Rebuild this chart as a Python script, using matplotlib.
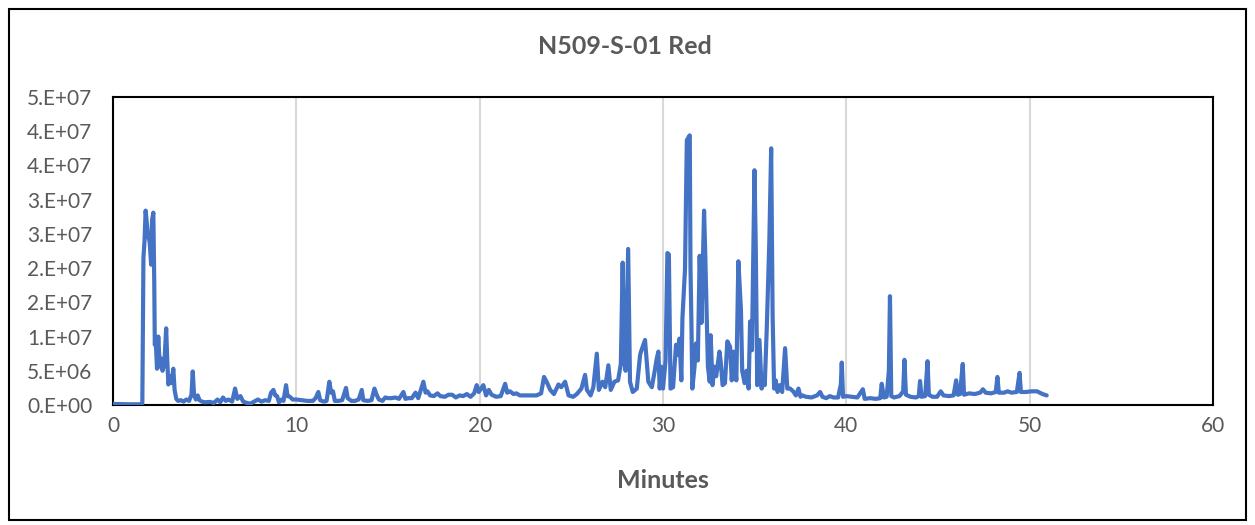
import math

import numpy as np
import matplotlib
matplotlib.use("Agg")
import matplotlib.pyplot as plt
from matplotlib.patches import Rectangle
from matplotlib.ticker import FuncFormatter

TITLE = "N509-S-01 Red"
X_LABEL = "Minutes"

# retention time (min) and intensity (millions of counts)
minutes = [
    0.0, 0.5, 1.0, 1.55, 1.6, 1.63, 1.66, 1.72, 1.78, 1.9, 2.0, 2.08, 2.13, 2.2,
    2.25, 2.28, 2.33, 2.4, 2.47, 2.55, 2.62, 2.7, 2.8, 2.9, 2.96, 3.02, 3.1, 3.18,
    3.29, 3.36, 3.45, 3.55, 3.7, 3.85, 4.0, 4.15, 4.28, 4.35, 4.42, 4.52, 4.62,
    4.72, 4.85, 5.0, 5.3, 5.5, 5.7, 5.85, 6.0, 6.15, 6.3, 6.5, 6.66, 6.78, 6.95,
    7.1, 7.3, 7.5, 7.7, 7.9, 8.1, 8.3, 8.5, 8.62, 8.75, 8.85, 8.95, 9.05, 9.2,
    9.3, 9.44, 9.52, 9.65, 9.8, 10.0, 10.3, 10.6, 10.9, 11.05, 11.2, 11.3, 11.5,
    11.65, 11.8, 11.9, 12.0, 12.1, 12.3, 12.5, 12.71, 12.8, 13.0, 13.2, 13.4,
    13.57, 13.65, 13.9, 14.1, 14.26, 14.38, 14.5, 14.7, 14.85, 15.0, 15.2, 15.4,
    15.6, 15.84, 15.95, 16.1, 16.3, 16.5, 16.65, 16.93, 17.05, 17.15, 17.3, 17.5,
    17.7, 17.85, 18.1, 18.3, 18.5, 18.7, 18.9, 19.1, 19.3, 19.5, 19.7, 19.84,
    19.95, 20.2, 20.35, 20.5, 20.65, 20.9, 21.15, 21.39, 21.5, 21.65, 21.85, 22.0,
    22.2, 22.5, 22.8, 23.1, 23.35, 23.51, 23.65, 23.85, 24.05, 24.3, 24.45, 24.66,
    24.85, 25.1, 25.3, 25.55, 25.75, 25.85, 26.05, 26.2, 26.39, 26.5, 26.7, 26.85,
    27.02, 27.15, 27.35, 27.55, 27.7, 27.8, 27.88, 27.96, 28.1, 28.2, 28.35,
    28.57, 28.75, 28.8, 29.02, 29.1, 29.2, 29.39, 29.55, 29.66, 29.75, 29.82,
    29.9, 30.0, 30.14, 30.24, 30.32, 30.41, 30.55, 30.71, 30.78, 30.9, 31.0,
    31.06, 31.2, 31.3, 31.46, 31.5, 31.55, 31.6, 31.72, 31.8, 31.9, 32.0, 32.1,
    32.24, 32.3, 32.45, 32.55, 32.6, 32.7, 32.8, 32.9, 33.08, 33.15, 33.25, 33.38,
    33.51, 33.66, 33.75, 33.85, 34.0, 34.11, 34.25, 34.32, 34.45, 34.55, 34.67,
    34.75, 34.85, 34.99, 35.06, 35.14, 35.26, 35.38, 35.45, 35.55, 35.66, 35.8,
    35.9, 35.98, 36.06, 36.15, 36.25, 36.38, 36.5, 36.66, 36.78, 36.93, 37.1,
    37.25, 37.39, 37.5, 37.6, 37.8, 38.1, 38.4, 38.57, 38.7, 38.9, 39.1, 39.3,
    39.55, 39.7, 39.75, 39.82, 40.0, 40.3, 40.6, 40.9, 41.0, 41.3, 41.6, 41.85,
    41.93, 42.05, 42.2, 42.32, 42.38, 42.45, 42.6, 42.9, 43.1, 43.17, 43.25,
    43.5, 43.8, 43.95, 44.02, 44.1, 44.3, 44.43, 44.5, 44.7, 44.95, 45.15, 45.3,
    45.6, 45.85, 45.99, 46.08, 46.2, 46.35, 46.42, 46.7, 47.0, 47.3, 47.45, 47.6,
    47.9, 48.15, 48.24, 48.32, 48.6, 48.8, 49.0, 49.3, 49.45, 49.52, 49.8, 50.1,
    50.4, 50.7, 50.93,
]
intensity_m = [
    0.15, 0.12, 0.1, 0.1, 0.3, 12.0, 21.5, 24.0, 28.4, 25.0, 23.8, 20.5, 27.0, 28.1,
    18.0, 8.8, 9.5, 5.3, 10.0, 5.6, 6.8, 5.0, 6.0, 11.2, 6.5, 3.0, 4.2, 3.2,
    5.3, 2.2, 0.9, 0.6, 0.7, 0.5, 0.8, 0.6, 1.5, 4.9, 1.5, 0.8, 1.4,
    0.7, 0.5, 0.4, 0.45, 0.3, 0.8, 0.4, 1.1, 0.6, 0.8, 0.5, 2.4, 0.9, 1.3,
    0.5, 0.3, 0.2, 0.5, 0.8, 0.5, 0.7, 0.6, 1.8, 2.2, 1.4, 1.3, 0.4, 0.8,
    0.6, 2.9, 1.3, 1.2, 0.8, 0.8, 0.7, 0.6, 0.6, 1.0, 1.9, 0.7, 0.5,
    0.6, 3.4, 1.8, 2.0, 0.6, 0.6, 0.7, 2.5, 1.0, 0.6, 0.6, 0.8,
    2.2, 0.7, 0.6, 0.7, 2.4, 1.5, 0.8, 0.6, 1.1, 1.0, 1.0, 1.1,
    0.9, 1.9, 0.9, 1.0, 1.0, 1.8, 1.0, 3.4, 1.8, 2.0, 1.4, 1.3,
    1.7, 1.3, 1.2, 1.5, 1.5, 1.1, 1.4, 1.3, 1.6, 1.2, 1.7, 2.9,
    1.9, 2.9, 1.4, 2.2, 1.5, 1.2, 1.3, 3.1, 1.8, 2.0, 1.6, 1.7,
    1.4, 1.4, 1.4, 1.4, 1.7, 4.1, 3.4, 2.2, 1.6, 3.0, 2.6, 3.4,
    1.4, 1.2, 1.6, 2.4, 4.4, 2.2, 1.4, 2.6, 7.5, 2.2, 3.4, 2.6,
    5.8, 2.2, 3.4, 3.6, 6.0, 20.8, 6.5, 5.0, 22.8, 3.4, 1.9,
    2.4, 7.3, 7.8, 9.5, 6.8, 3.4, 2.6, 5.0, 6.8, 7.8, 2.4,
    5.6, 2.4, 6.5, 22.2, 22.0, 2.4, 2.6, 8.8, 7.3, 9.7, 3.6,
    12.7, 19.8, 38.7, 39.4, 20.0, 12.0, 2.4, 5.6, 9.0, 6.5, 21.8, 12.0,
    28.4, 22.5, 5.6, 3.4, 10.2, 2.9, 5.6, 4.2, 7.8, 6.3, 2.9, 3.2,
    9.3, 8.5, 3.6, 7.8, 3.6, 21.0, 14.0, 5.0, 3.2, 5.0, 2.4,
    12.2, 8.0, 34.3, 23.0, 2.9, 9.5, 2.4, 4.2, 2.9, 11.2, 24.0,
    37.5, 13.0, 2.4, 3.6, 1.9, 2.9, 1.9, 8.3, 2.4, 2.4, 2.0,
    1.4, 2.4, 1.2, 1.4, 1.2, 1.1, 1.4, 1.9, 1.2, 1.0, 1.3, 1.1,
    1.1, 3.0, 6.2, 1.2, 1.3, 1.2, 1.1, 2.3, 0.9, 1.0, 0.9, 1.0,
    3.1, 1.1, 1.2, 5.0, 15.9, 1.3, 1.1, 1.3, 2.0, 6.6, 1.5,
    1.2, 1.1, 1.3, 3.5, 1.2, 1.3, 6.4, 1.5, 1.2, 1.2, 2.0, 1.4,
    1.3, 1.4, 3.6, 1.5, 1.6, 6.0, 1.5, 1.7, 1.6, 1.8, 2.3, 1.8,
    1.7, 1.9, 4.1, 1.8, 1.8, 2.0, 1.8, 1.9, 4.7, 1.9, 1.9, 2.0,
    2.0, 1.6, 1.4,
]

X_TICKS = [0, 10, 20, 30, 40, 50, 60]
Y_TICKS = [0, 5e6, 1e7, 1.5e7, 2e7, 2.5e7, 3e7, 3.5e7, 4e7, 4.5e7]

LINE_COLOR = "#4472C4"
TEXT_COLOR = "#595959"
GRID_COLOR = "#D9D9D9"

plt.rcParams["font.family"] = ["Lato", "DejaVu Sans"]


def excel_sci(v, _pos=None):
    # mimics Excel's "0.E+00" number format (round half up)
    if v == 0:
        return "0.E+00"
    exp = int(math.floor(math.log10(abs(v))))
    mant = int(math.floor(v / 10 ** exp + 0.5))
    if mant >= 10:
        mant, exp = 1, exp + 1
    return f"{mant}.E{'+' if exp >= 0 else '-'}{abs(exp):02d}"


fig = plt.figure(figsize=(12.55, 5.25), dpi=100)
ax = fig.add_axes([113 / 1255, 1 - 405 / 525, 1100 / 1255, 308 / 525])

ax.plot(minutes, np.array(intensity_m) * 1e6, color=LINE_COLOR, lw=3.0,
        solid_joinstyle="round", solid_capstyle="round", zorder=3)

ax.set_xlim(0, 60)
ax.set_ylim(0, 4.5e7)
ax.set_xticks(X_TICKS)
ax.set_yticks(Y_TICKS)
ax.yaxis.set_major_formatter(FuncFormatter(excel_sci))
ax.tick_params(length=0, labelsize=15, labelcolor=TEXT_COLOR)
ax.tick_params(axis="y", pad=15)
ax.tick_params(axis="x", pad=8)
ax.grid(axis="x", color=GRID_COLOR, lw=1.5, zorder=0)
ax.set_axisbelow(True)
for sp in ax.spines.values():
    sp.set_color("black")
    sp.set_linewidth(1.5)

fig.text(625 / 1255, 1 - 47 / 525, TITLE, ha="center", va="center",
         fontsize=18, fontweight="bold", color=TEXT_COLOR)
fig.text(663 / 1255, 1 - 480 / 525, X_LABEL, ha="center", va="center",
         fontsize=18, fontweight="bold", color=TEXT_COLOR)

# outer chart border
fig.patches.append(Rectangle((9 / 1255, 5 / 525), 1237 / 1255, 511 / 525,
                             transform=fig.transFigure, fill=False,
                             edgecolor="black", lw=1.5))

fig.savefig("out.png", dpi=100)
